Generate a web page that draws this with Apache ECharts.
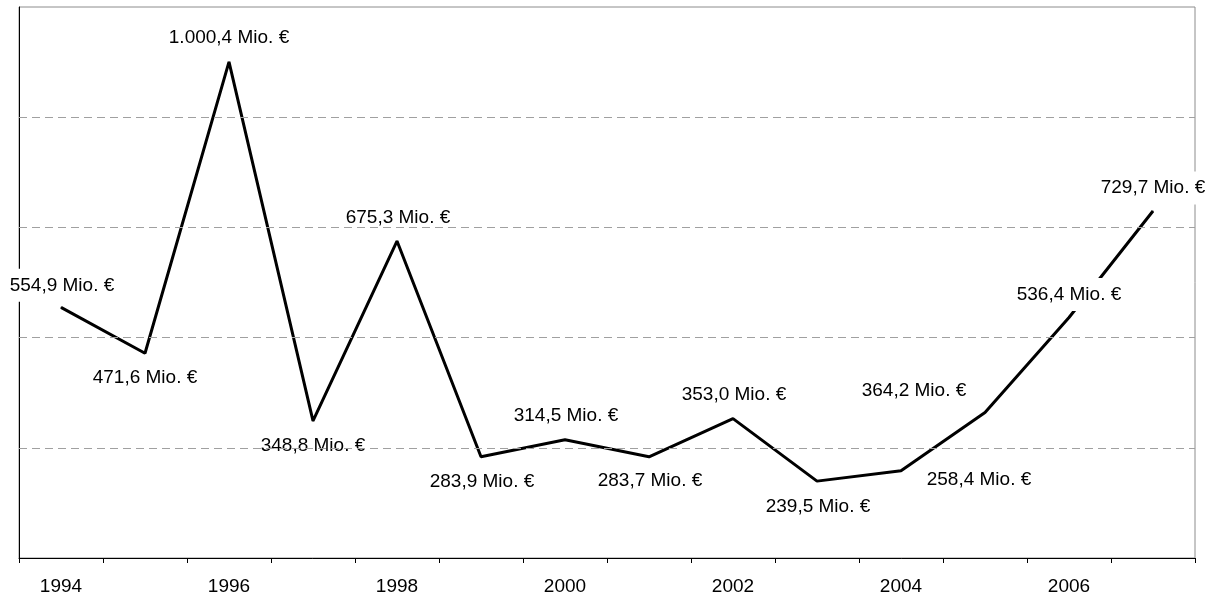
<!DOCTYPE html>
<html>
<head>
<meta charset="utf-8">
<title>Mio. € je Jahr</title>
<script src="https://cdn.jsdelivr.net/npm/echarts@6/dist/echarts.min.js"></script>
<style>
  html, body { margin: 0; padding: 0; background: #fff; }
  #chart { width: 1213px; height: 597px; }
</style>
</head>
<body>
<div id="chart"></div>
<script>
// Jahre und Beträge (Mio. €)
const years = ['1994','1995','1996','1997','1998','1999','2000','2001','2002','2003','2004','2005','2006','2007'];
const amounts = [554.9, 471.6, 1000.4, 348.8, 675.3, 283.9, 314.5, 283.7, 353.0, 239.5, 258.4, 364.2, 536.4, 729.7];

// Hilfslinien der Werteachse
const gridValues = [300, 500, 700, 900];
const axisMin = 100;
const axisMax = 1100;

// Lage der Beschriftungen relativ zum Punkt [dx, dy] in Pixeln
const labelOffsets = [
  [1, -22], [0, 25], [0, -24], [0, 25], [1, -23], [1, 25], [1, -24],
  [1, 24], [1, -24], [1, 26], [78, 9], [-71, -22], [0, -23], [0, -23]
];

const fmt = v => v.toLocaleString('de-DE', { minimumFractionDigits: 1, maximumFractionDigits: 1 }) + ' Mio. €';

const FONT = "'Liberation Sans', Arial, Helvetica, sans-serif";

const chart = echarts.init(document.getElementById('chart'), null, { renderer: 'canvas' });

chart.setOption({
  animation: false,
  backgroundColor: '#ffffff',
  grid: {
    left: 19, right: 18, top: 7, bottom: 39,
    show: true, borderColor: '#8c8c8c', borderWidth: 1, backgroundColor: 'transparent'
  },
  xAxis: {
    type: 'category',
    data: years,
    boundaryGap: true,
    axisLine: { show: true, lineStyle: { color: '#000', width: 1 } },
    axisTick: { show: true, interval: 0, length: 5, lineStyle: { color: '#000', width: 1 } },
    axisLabel: { interval: 1, margin: 19, color: '#000', fontFamily: FONT, fontSize: 19 },
    splitLine: { show: false }
  },
  yAxis: {
    type: 'value',
    min: axisMin,
    max: axisMax,
    axisLine: { show: true, lineStyle: { color: '#000', width: 1 } },
    axisTick: { show: false },
    axisLabel: { show: false },
    splitLine: { show: false }
  },
  series: [
    {
      // gestrichelte Hilfslinien
      name: 'Raster',
      type: 'line',
      z: 1,
      data: years.map(() => null),
      symbol: 'none',
      silent: true,
      markLine: {
        silent: true,
        symbol: ['none', 'none'],
        label: { show: false },
        lineStyle: { color: '#a0a0a0', width: 1, type: [8, 5] },
        data: gridValues.map(v => ({ yAxis: v }))
      }
    },
    {
      name: 'Betrag',
      type: 'line',
      z: 3,
      data: amounts,
      symbol: 'circle',
      symbolSize: 1,
      showSymbol: true,
      itemStyle: { color: '#000' },
      lineStyle: { color: '#000', width: 3 },
      label: {
        show: true,
        position: 'inside',
        formatter: p => fmt(p.value),
        color: '#000',
        fontFamily: FONT,
        fontSize: 19,
        backgroundColor: '#ffffff',
        padding: [7, 4]
      },
      labelLayout: p => ({
        dx: labelOffsets[p.dataIndex][0],
        dy: labelOffsets[p.dataIndex][1],
        hideOverlap: false
      })
    }
  ]
});
</script>
</body>
</html>
